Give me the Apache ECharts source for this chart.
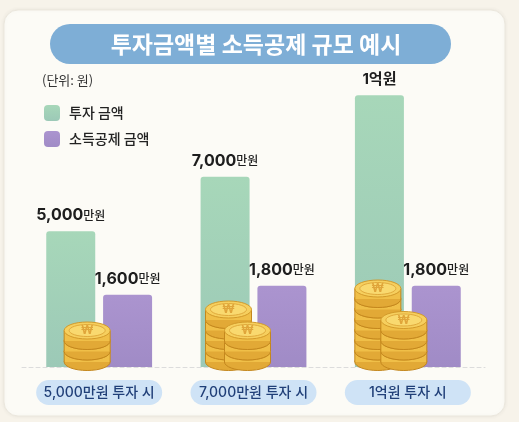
<!DOCTYPE html>
<html>
<head>
<meta charset="utf-8">
<script src="https://cdn.jsdelivr.net/npm/echarts@6/dist/echarts.min.js"></script>
<style>
html,body{margin:0;padding:0;background:#f7f3ea;}
#c{width:519px;height:422px;}
</style>
</head>
<body>
<div id="c"></div>
<script>
// ---- data ----
var categories = ['5,000만원 투자 시', '7,000만원 투자 시', '1억원 투자 시'];
var investAmount = [5000, 7000, 10000];       // 만원
var deductionAmount = [1600, 1800, 1800];     // 만원
var seriesNames = ['투자 금액', '소득공제 금액'];
var coinStacks = [[3], [5, 3], [7, 4]];       // decorative coin counts per group

var FONT = 'Inter, "Noto Sans CJK KR", "Noto Sans", sans-serif';
var KFONT = '"Noto Sans CJK KR", "Noto Sans", sans-serif';

function fmt(v) {
  if (v >= 10000) return '{b|' + (v / 10000) + '억원}';
  return '{n|' + v.toLocaleString('en-US') + '}{u|만원}';
}

var chart = echarts.init(document.getElementById('c'), null, {renderer: 'canvas'});

var labelRich = {
  n: {fontSize: 16, fontWeight: 'bold', color: '#1e1e1e', fontFamily: FONT},
  u: {fontSize: 12, fontWeight: 500, color: '#1e1e1e', fontFamily: KFONT},
  b: {fontSize: 15, fontWeight: 'bold', color: '#1e1e1e', fontFamily: FONT}
};

var option = {
  backgroundColor: '#f7f3ea',
  textStyle: {fontFamily: FONT},
  title: [
    {
      text: '투자금액별 소득공제 규모 예시',
      left: 251, top: 28, textAlign: 'center',
      textStyle: {color: '#ffffff', fontSize: 23, fontWeight: 'bold', fontFamily: KFONT}
    },
    {
      text: '(단위: 원)',
      left: 37, top: 69,
      textStyle: {color: '#333333', fontSize: 13, fontWeight: 'normal', fontFamily: KFONT}
    }
  ],
  legend: {
    orient: 'vertical',
    left: 39, top: 100,
    itemWidth: 16, itemHeight: 16, itemGap: 10,
    icon: 'roundRect',
    textStyle: {fontSize: 14, color: '#222222', fontWeight: 500, fontFamily: KFONT, padding: [0, 0, 0, 4]},
    data: seriesNames
  },
  grid: {left: 22, right: 34, top: 60, bottom: 55, containLabel: false},
  xAxis: {
    type: 'category',
    data: categories,
    axisTick: {show: false},
    axisLine: {show: true, lineStyle: {color: '#dcdcdc', type: [4, 3], width: 1}},
    axisLabel: {
      margin: 13,
      fontSize: 14,
      lineHeight: 16,
      color: '#203f78',
      fontWeight: 500,
      fontFamily: FONT,
      backgroundColor: '#cfe3f6',
      borderRadius: 13,
      width: 106,
      align: 'center',
      padding: [5, 10, 4, 10]
    }
  },
  yAxis: [
    {type: 'value', min: 0, max: 11300, show: false, splitLine: {show: false}},
    {type: 'value', min: 0, max: 6800, show: false, splitLine: {show: false}}
  ],
  series: [
    {
      name: seriesNames[0],
      type: 'bar',
      yAxisIndex: 0,
      data: investAmount,
      barWidth: 49,
      barGap: '16%',
      itemStyle: {
        color: new echarts.graphic.LinearGradient(0, 0, 0, 1, [
          {offset: 0, color: '#a7d7b9'},
          {offset: 1, color: '#9cc9b7'}
        ]),
        borderRadius: [3, 3, 0, 0]
      },
      label: {show: true, position: 'top', distance: 8, formatter: function (p) { return fmt(p.value); }, rich: labelRich},
      z: 2
    },
    {
      name: seriesNames[1],
      type: 'bar',
      yAxisIndex: 1,
      data: deductionAmount,
      barWidth: 49,
      barGap: '16%',
      itemStyle: {
        color: new echarts.graphic.LinearGradient(0, 0, 0, 1, [
          {offset: 0, color: '#ab94cf'},
          {offset: 1, color: '#a08bc6'}
        ]),
        borderRadius: [3, 3, 0, 0]
      },
      label: {show: true, position: 'top', distance: 8, formatter: function (p) { return fmt(p.value); }, rich: labelRich},
      z: 2
    }
  ],
  color: ['#a3d3b9', '#a690cb']
};

chart.setOption(option);

// ---- decorations: card, title pill, coins ----
function coinStack(cx, baseY, n, z) {
  var els = [];
  var rx = 23, ry = 8.5, t = 10.5;
  for (var k = 0; k < n; k++) {
    var yb = baseY - k * t;
    els.push({type: 'ellipse', shape: {cx: cx, cy: yb, rx: rx, ry: ry}, style: {fill: '#e2a936', stroke: '#c4871d', lineWidth: 1}, z: z});
    els.push({type: 'rect', shape: {x: cx - rx, y: yb - t, width: rx * 2, height: t}, style: {fill: '#f0bf48'}, z: z});
    els.push({type: 'line', shape: {x1: cx - rx, y1: yb - t, x2: cx - rx, y2: yb}, style: {stroke: '#c4871d', lineWidth: 1}, z: z});
    els.push({type: 'line', shape: {x1: cx + rx, y1: yb - t, x2: cx + rx, y2: yb}, style: {stroke: '#c4871d', lineWidth: 1}, z: z});
    els.push({type: 'ellipse', shape: {cx: cx, cy: yb - t, rx: rx, ry: ry}, style: {fill: '#f6cf5e', stroke: '#d39a2a', lineWidth: 1}, z: z});
  }
  var topY = baseY - n * t;
  els.push({type: 'ellipse', shape: {cx: cx, cy: topY, rx: rx - 5, ry: ry - 2.5}, style: {fill: '#f9d96f', stroke: '#e0aa3c', lineWidth: 1}, z: z});
  els.push({type: 'text', x: cx, y: topY, style: {text: '₩', fill: '#e0a53a', fontSize: 12, fontWeight: 'bold', align: 'center', verticalAlign: 'middle', fontFamily: FONT}, z: z});
  return els;
}

var stackOffsets = [[-12], [-25, -6], [-30, -4]];
var graphics = [
  {type: 'rect', shape: {x: 4, y: 10, width: 501, height: 406, r: 14}, style: {fill: '#fcfbf6', stroke: '#ebe7dd', lineWidth: 1, shadowBlur: 4, shadowColor: 'rgba(0,0,0,0.06)'}, z: -10, silent: true},
  {type: 'rect', shape: {x: 50, y: 24, width: 401, height: 40, r: 20}, style: {fill: '#7eaed6'}, z: -5, silent: true}
];
var baseY = chart.convertToPixel({yAxisIndex: 0}, 0) + 1;
for (var g = 0; g < coinStacks.length; g++) {
  var cxCat = chart.convertToPixel({xAxisIndex: 0}, g);
  for (var s = 0; s < coinStacks[g].length; s++) {
    graphics = graphics.concat(coinStack(cxCat + stackOffsets[g][s], baseY - 6, coinStacks[g][s], 10 + s));
  }
}
chart.setOption({graphic: graphics});
</script>
</body>
</html>
